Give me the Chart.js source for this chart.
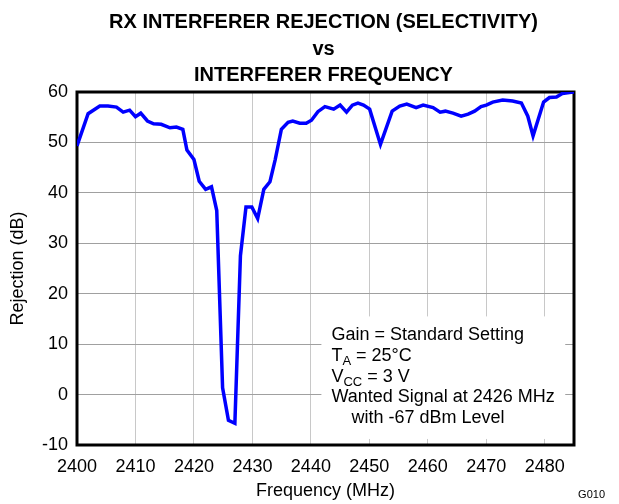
<!DOCTYPE html>
<html>
<head>
<meta charset="utf-8">
<script src="https://cdn.jsdelivr.net/npm/chart.js@4"></script>
<style>
  body { margin: 0; background: #fff; }
  #wrap { width: 619px; height: 504px; position: relative; }
</style>
</head>
<body>
<div id="wrap"><canvas id="chart"></canvas></div>
<script>
// values
const freqMHz = [2400, 2401.9, 2403.9, 2405.3, 2406.75, 2407.9, 2409, 2410, 2410.9, 2412.05,
  2413.1, 2414.4, 2415.9, 2417, 2418.1, 2418.8, 2420, 2420.9, 2422, 2423,
  2423.9, 2424.9, 2425.9, 2427.0, 2427.95, 2428.9, 2429.9, 2430.9, 2431.95, 2433,
  2433.9, 2434.95, 2436.1, 2436.9, 2438.1, 2439.2, 2440.1, 2441.2, 2442.4, 2443.9,
  2445.0, 2446.1, 2447.1, 2448.05, 2449.0, 2450.05, 2451.9, 2453.9, 2455.2, 2456.4,
  2458.0, 2459.2, 2460.9, 2462.1, 2463.0, 2464.3, 2465.7, 2466.9, 2468.0, 2469.1,
  2470.0, 2471.1, 2472.8, 2474.5, 2476.0, 2477.1, 2478.0, 2479.8, 2480.8, 2482.0,
  2483.0, 2484.2, 2485];
const rejectionDb = [49.3, 55.7, 57.2, 57.2, 57.0, 56.0, 56.4, 55.1, 55.8, 54.25,
  53.7, 53.6, 52.9, 53.05, 52.6, 48.5, 46.6, 42.3, 40.7, 41.2,
  36.5, 1.35, -5.1, -5.7, 27.5, 37.2, 37.2, 34.9, 40.7, 42.2,
  46.6, 52.6, 54.0, 54.25, 53.8, 53.8, 54.4, 56.1, 57.1, 56.6,
  57.4, 56.0, 57.4, 57.8, 57.4, 56.6, 49.6, 56.2, 57.2, 57.6,
  56.9, 57.4, 56.9, 56.0, 56.2, 55.8, 55.2, 55.6, 56.2, 57.1,
  57.4, 58.0, 58.4, 58.2, 57.8, 55.2, 51.3, 58.0, 58.9, 59.0,
  59.7, 59.9, 60];
const xTicks = [2400, 2410, 2420, 2430, 2440, 2450, 2460, 2470, 2480];
const yTicks = [-10, 0, 10, 20, 30, 40, 50, 60];
const titleLines = ["RX INTERFERER REJECTION (SELECTIVITY)", "vs", "INTERFERER FREQUENCY"];

const FONT = "Arial, 'Liberation Sans', sans-serif";

// white note box with the test conditions, sits on top of the grid
const noteBox = {
  id: "noteBox",
  beforeDatasetsDraw(chart) {
    const { ctx, chartArea, scales } = chart;
    const x = scales.x, y = scales.y;
    const left = x.getPixelForValue(2441.8);
    const right = x.getPixelForValue(2483.5);
    const top = y.getPixelForValue(15.5);
    const bottom = y.getPixelForValue(-8.8);
    ctx.save();
    ctx.fillStyle = "#fff";
    ctx.fillRect(left, top, right - left, bottom - top);

    // frame around the plot
    ctx.strokeStyle = "#000";
    ctx.lineWidth = 3;
    ctx.strokeRect(chartArea.left, chartArea.top,
      chartArea.right - chartArea.left, chartArea.bottom - chartArea.top);

    ctx.fillStyle = "#000";
    ctx.textBaseline = "alphabetic";
    ctx.textAlign = "left";
    const tx = left + 10;
    let ty = top + 24;
    const step = 20.6;
    const big = "18px " + FONT, small = "13px " + FONT;

    const withSub = (main, sub, rest, yy) => {
      ctx.font = big;
      ctx.fillText(main, tx, yy);
      let w = ctx.measureText(main).width;
      ctx.font = small;
      ctx.fillText(sub, tx + w, yy + 4);
      w += ctx.measureText(sub).width;
      ctx.font = big;
      ctx.fillText(rest, tx + w, yy);
    };

    ctx.font = big;
    ctx.fillText("Gain = Standard Setting", tx, ty);
    ty += step;
    withSub("T", "A", " = 25°C", ty);
    ty += step;
    withSub("V", "CC", " = 3 V", ty);
    ty += step;
    ctx.font = big;
    ctx.fillText("Wanted Signal at 2426 MHz", tx, ty);
    ty += step;
    ctx.fillText("with -67 dBm Level", tx + 20, ty);
    ctx.restore();
  },
  afterDraw(chart) {
    const { ctx, chartArea } = chart;
    ctx.save();
    ctx.fillStyle = "#000";
    ctx.textAlign = "center";
    ctx.textBaseline = "alphabetic";
    ctx.font = "bold 20px " + FONT;
    const cx = (chartArea.left + chartArea.right) / 2 - 2;
    titleLines.forEach((t, i) => ctx.fillText(t, cx, 28 + i * 26.5));

    ctx.font = "11px " + FONT;
    ctx.textAlign = "right";
    ctx.fillText("G010", 605, 498);
    ctx.restore();
  }
};

new Chart(document.getElementById("chart"), {
  type: "line",
  data: {
    datasets: [{
      data: freqMHz.map((f, i) => ({ x: f, y: rejectionDb[i] })),
      borderColor: "#0000ff",
      borderWidth: 3.5,
      pointRadius: 0,
      tension: 0,
      fill: false
    }]
  },
  options: {
    responsive: true,
    maintainAspectRatio: false,
    animation: false,
    layout: { padding: { top: 92, right: 45, left: 0, bottom: 0 } },
    plugins: {
      legend: { display: false },
      tooltip: { enabled: false },
      title: { display: false }
    },
    scales: {
      x: {
        type: "linear",
        min: 2400,
        max: 2485,
        afterFit: (s) => { s.height = 59; },
        afterBuildTicks: (s) => { s.ticks = xTicks.map(v => ({ value: v })); },
        grid: { color: "#c8c8c8", lineWidth: 1, drawTicks: false },
        border: { display: false },
        ticks: {
          color: "#000",
          font: { size: 18, family: FONT },
          padding: 11,
          maxRotation: 0,
          callback: (v) => String(v)
        },
        title: {
          display: true,
          text: "Frequency (MHz)",
          color: "#000",
          font: { size: 18, family: FONT },
          padding: { top: 0, bottom: 2 }
        }
      },
      y: {
        min: -10,
        max: 60,
        afterFit: (s) => { s.width = 77; },
        afterBuildTicks: (s) => { s.ticks = yTicks.map(v => ({ value: v })); },
        grid: { color: "#a0a0a0", lineWidth: 1, drawTicks: false },
        border: { display: false },
        ticks: { color: "#000", font: { size: 18, family: FONT }, padding: 9 },
        title: {
          display: true,
          text: "Rejection (dB)",
          color: "#000",
          font: { size: 18, family: FONT },
          padding: { top: 7, bottom: 0 }
        }
      }
    }
  },
  plugins: [noteBox]
});
</script>
</body>
</html>
